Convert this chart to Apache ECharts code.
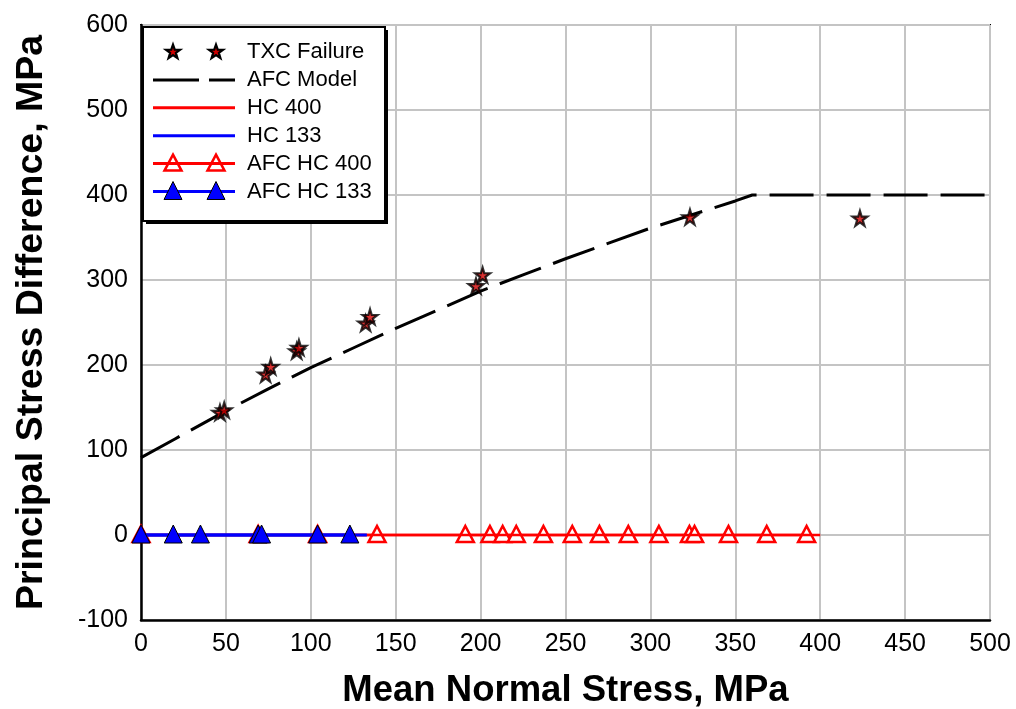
<!DOCTYPE html>
<html>
<head>
<meta charset="utf-8">
<script src="https://cdn.jsdelivr.net/npm/echarts@6/dist/echarts.min.js"></script>
<style>
html,body{margin:0;padding:0;background:#fff;}
#chart{width:1016px;height:709px;}
</style>
</head>
<body>
<div id="chart"></div>
<script>
// ---- data ----
const xTicks = [0, 50, 100, 150, 200, 250, 300, 350, 400, 450, 500];
const yTicks = [-100, 0, 100, 200, 300, 400, 500, 600];

const txcFailure = [
  [46.5, 144], [49, 147], [73.4, 189], [76.4, 198], [91.7, 216.5], [93, 220.4],
  [132.3, 249], [134.9, 256.8], [197.3, 293], [201.2, 305.9], [323.3, 374], [423.4, 372.6]
];
const afcModel = [
  [0, 91], [20, 113], [50, 146], [75, 172], [100, 197], [125, 220], [150, 243],
  [175, 265], [200, 287], [225, 306], [250, 325], [275, 343], [300, 361],
  [325, 377], [350, 393], [360, 400], [500, 400]
];
const hc400 = [[0, 0], [400, 0]];
const hc133 = [[0, 0], [133, 0]];
const afcHc400X = [0, 69, 104, 139, 191, 205.5, 213, 221, 237, 254, 270, 287, 305, 323, 326, 346, 368.5, 392];
const afcHc133X = [0, 19, 35, 69, 71, 104, 123];

const legendNames = ['TXC Failure', 'AFC Model', 'HC 400', 'HC 133', 'AFC HC 400', 'AFC HC 133'];

// ---- chart ----
const FONT = 'Liberation Sans, Arial, sans-serif';
const starPath = 'path://M50,0 L61,35 L98,35 L68,57 L79,91 L50,70 L21,91 L32,57 L2,35 L39,35 Z';

function starPoints(cx, cy, r) {
  const pts = [];
  for (let i = 0; i < 10; i++) {
    const a = -Math.PI / 2 + i * Math.PI / 5;
    const rr = i % 2 === 0 ? r : r * 0.4;
    pts.push([cx + rr * Math.cos(a), cy + rr * Math.sin(a)]);
  }
  return pts;
}
function triPoints(cx, cy, w, h) {
  return [[cx, cy - h / 2], [cx + w / 2, cy + h / 2], [cx - w / 2, cy + h / 2]];
}

const chart = echarts.init(document.getElementById('chart'));

// legend drawn as graphic
const LX0 = 143, LY0 = 27, LW = 242, LH = 194;
const rowY0 = 52, rowGap = 27.9;
const lineL = 153, lineR = 235, sym1 = 173, sym2 = 216, textX = 247;
const g = [];
g.push({ type: 'rect', shape: { x: LX0 + 3, y: LY0 + 3, width: LW, height: LH }, style: { fill: '#000' }, z: 100 });
g.push({ type: 'rect', shape: { x: LX0, y: LY0, width: LW, height: LH }, style: { fill: '#fff', stroke: '#000', lineWidth: 2 }, z: 101 });
legendNames.forEach((name, i) => {
  const y = rowY0 + i * rowGap;
  g.push({ type: 'text', x: textX, y: y, style: { text: name, font: '22px ' + FONT, fill: '#000', textVerticalAlign: 'middle' }, z: 103 });
  if (i === 0) {
    [sym1, sym2].forEach(sx => {
      g.push({ type: 'polygon', shape: { points: starPoints(sx, y, 7.5) }, style: { fill: '#d00000', stroke: '#000', lineWidth: 2.2 }, z: 103 });
    });
  } else if (i === 1) {
    g.push({ type: 'line', shape: { x1: lineL, y1: y, x2: lineR, y2: y }, style: { stroke: '#000', lineWidth: 3, lineDash: [46, 10] }, z: 102 });
  } else {
    const col = (i === 2 || i === 4) ? '#ff0000' : '#0000ff';
    g.push({ type: 'line', shape: { x1: lineL, y1: y, x2: lineR, y2: y }, style: { stroke: col, lineWidth: 3 }, z: 102 });
    if (i === 4) {
      [sym1, sym2].forEach(sx => {
        g.push({ type: 'polygon', shape: { points: triPoints(sx, y - 1, 17, 16) }, style: { fill: 'rgba(255,255,255,0)', stroke: '#ff0000', lineWidth: 2.5 }, z: 103 });
      });
    }
    if (i === 5) {
      [sym1, sym2].forEach(sx => {
        g.push({ type: 'polygon', shape: { points: triPoints(sx, y - 1, 18, 18) }, style: { fill: '#0000ff', stroke: '#000', lineWidth: 1 }, z: 103 });
      });
    }
  }
});

const option = {
  animation: false,
  backgroundColor: '#fff',
  grid: { left: 141, right: 26, top: 25, bottom: 89, show: true, borderColor: '#000', borderWidth: 2,
    containLabel: false, outerBoundsMode: 'none' },
  xAxis: {
    type: 'value', min: 0, max: 500, interval: 50,
    name: 'Mean Normal Stress, MPa', nameLocation: 'middle', nameGap: 52,
    nameTextStyle: { fontFamily: FONT, fontWeight: 'bold', fontSize: 36.5, color: '#000' },
    axisLine: { show: true, onZero: false, lineStyle: { color: '#000', width: 2.5 } },
    axisTick: { show: false },
    axisLabel: { fontFamily: FONT, fontSize: 25, color: '#000', margin: 12,
      formatter: v => xTicks.includes(v) ? String(v) : '' },
    splitLine: { show: true, lineStyle: { color: '#c4c4c4', width: 2 } }
  },
  yAxis: {
    type: 'value', min: -100, max: 600, interval: 100,
    name: 'Principal Stress Difference, MPa', nameLocation: 'middle', nameGap: 90,
    nameTextStyle: { fontFamily: FONT, fontWeight: 'bold', fontSize: 37.5, color: '#000' },
    axisLine: { show: true, onZero: false, lineStyle: { color: '#000', width: 2.5 } },
    axisTick: { show: false },
    axisLabel: { fontFamily: FONT, fontSize: 25, color: '#000', margin: 13,
      formatter: v => yTicks.includes(v) ? String(v) : '' },
    splitLine: { show: true, lineStyle: { color: '#c4c4c4', width: 2 } }
  },
  graphic: g,
  series: [
    {
      name: 'AFC HC 400', type: 'line', z: 2,
      data: afcHc400X.map(x => [x, 0]),
      symbol: 'triangle', symbolSize: [17, 16], symbolOffset: [0, -1],
      lineStyle: { color: '#ff0000', width: 2.5 },
      itemStyle: { color: '#ffffff', borderColor: '#ff0000', borderWidth: 2.5 }
    },
    {
      name: 'HC 400', type: 'line', z: 3, data: hc400, showSymbol: false, symbol: 'none',
      lineStyle: { color: '#ff0000', width: 2.5 }
    },
    {
      name: 'HC 133', type: 'line', z: 4, data: hc133, showSymbol: false, symbol: 'none',
      lineStyle: { color: '#0000ff', width: 3 }
    },
    {
      name: 'AFC HC 133', type: 'line', z: 5,
      data: afcHc133X.map(x => [x, 0]),
      symbol: 'triangle', symbolSize: [18, 18], symbolOffset: [0, -1],
      lineStyle: { color: '#0000ff', width: 3 },
      itemStyle: { color: '#0000ff', borderColor: '#000', borderWidth: 1 }
    },
    {
      name: 'AFC Model', type: 'line', z: 6, data: afcModel, showSymbol: false, symbol: 'none',
      lineStyle: { color: '#000', width: 3, type: [44, 13] }
    },
    {
      name: 'TXC Failure', type: 'scatter', z: 7, data: txcFailure,
      symbol: starPath, symbolSize: 15,
      itemStyle: { color: '#d00000', borderColor: '#000', borderWidth: 2.2 }
    }
  ]
};
chart.setOption(option);
</script>
</body>
</html>
